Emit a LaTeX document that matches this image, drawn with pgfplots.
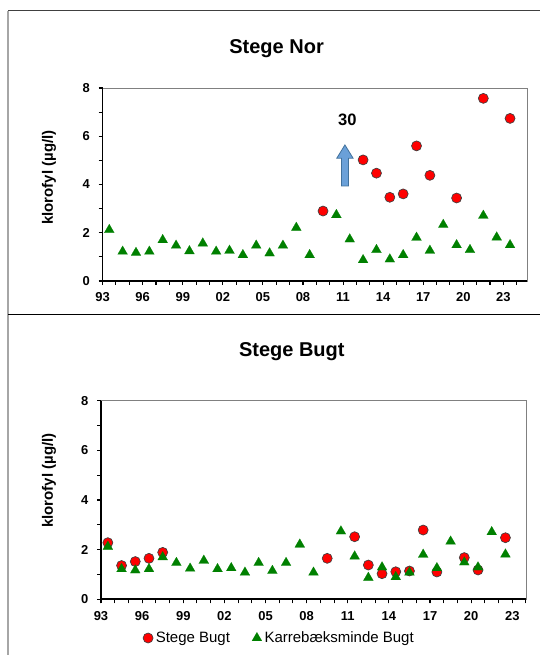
\documentclass[border=0pt]{standalone}
\usepackage{fontspec}
\setmainfont{Liberation Sans}
\usepackage{pgfplots}
\pgfplotsset{compat=1.18}

\definecolor{mkred}{RGB}{255,0,0}
\definecolor{mkgreen}{RGB}{0,128,0}
\definecolor{arrowfill}{RGB}{106,160,216}
\definecolor{arrowdraw}{RGB}{65,113,156}

\pgfplotsset{
  chl/.style={
    scale only axis,
    anchor=south west,
    clip=false,
    xmin=1993, ymin=0, ymax=8,
    xtick={1993,1996,...,2023},
    xticklabels={93,96,99,02,05,08,11,14,17,20,23},
    minor xtick={1993,...,2024},
    ytick={0,2,4,6,8},
    minor ytick={1,3,5,7},
    tick align=outside,
    tick pos=left,
    major tick length=3pt,
    minor tick length=3pt,
    every tick/.style={black, line width=0.8pt},
    axis line style={draw=black!50, line width=0.6pt},
    /pgf/number format/assume math mode=true,
    ticklabel style={font=\bfseries\fontsize{9.7}{11}\selectfont},
    yticklabel style={xshift=-3pt},
    xticklabel style={yshift=-2.4pt},
    every axis y label/.style={rotate=90, anchor=center, font=\bfseries\fontsize{11.25}{13}\selectfont},
    every axis title/.style={font=\bfseries\fontsize{15}{18}\selectfont, anchor=base},
    ylabel={klorofyl (µg/l)},
  },
  circ/.style={only marks, mark=*, mark size=3.75pt,
    mark options={fill=mkred, draw=black!75, line width=0.5pt}},
  tri/.style={only marks, mark=triangle*, mark size=4.3pt,
    mark options={fill=mkgreen, draw=mkgreen, line width=0.1pt}},
}

\pgfplotstableread{
x y
1993.5 2.12
1994.5 1.22
1995.5 1.17
1996.5 1.22
1997.5 1.70
1998.5 1.47
1999.5 1.24
2000.5 1.56
2001.5 1.22
2002.5 1.26
2003.5 1.08
2004.5 1.47
2005.5 1.15
2006.5 1.47
2007.5 2.21
2008.5 1.08
2010.5 2.74
2011.5 1.73
2012.5 0.87
2013.5 1.29
2014.5 0.90
2015.5 1.08
2016.5 1.80
2017.5 1.26
2018.5 2.33
2019.5 1.49
2020.5 1.29
2021.5 2.71
2022.5 1.81
2023.5 1.49
}\karreTop

\pgfplotstableread{
x y
1993.5 2.12
1994.5 1.22
1995.5 1.17
1996.5 1.22
1997.5 1.70
1998.5 1.47
1999.5 1.24
2000.5 1.56
2001.5 1.22
2002.5 1.26
2003.5 1.08
2004.5 1.47
2005.5 1.15
2006.5 1.47
2007.5 2.21
2008.5 1.08
2010.5 2.74
2011.5 1.73
2012.5 0.87
2013.5 1.29
2014.5 0.90
2015.5 1.08
2016.5 1.80
2017.5 1.26
2018.5 2.33
2019.5 1.49
2020.5 1.29
2021.5 2.71
2022.5 1.81
}\karreBot

\pgfplotstableread{
x y
2009.5 2.90
2012.5 5.02
2013.5 4.47
2014.5 3.47
2015.5 3.61
2016.5 5.60
2017.5 4.38
2019.5 3.44
2021.5 7.57
2023.5 6.74
}\stegeNor

\pgfplotstableread{
x y
1993.5 2.28
1994.5 1.36
1995.5 1.52
1996.5 1.65
1997.5 1.89
2009.5 1.65
2011.5 2.52
2012.5 1.38
2013.5 1.03
2014.5 1.11
2015.5 1.14
2016.5 2.79
2017.5 1.10
2019.5 1.68
2020.5 1.18
2022.5 2.48
}\stegeBugt

\begin{document}
\begin{tikzpicture}
\path[use as bounding box] (0,0) rectangle (405pt,491.25pt);
\draw[black!75, line width=0.75pt] (6pt,483.2pt) -- (405pt,483.2pt);
\draw[black!35, line width=1.5pt] (6pt,483.2pt) -- (6pt,0pt);
\draw[black, line width=0.75pt] (6pt,255pt) -- (405pt,255pt);

% Top panel
\begin{axis}[chl,
  at={(76.95pt,280.5pt)},
  width=318.3pt, height=144.75pt,
  xmax=2024.77,
  title={Stege Nor},
  title style={at={(axis description cs:0.41,1)}, yshift=26.25pt},
  ylabel style={at={(axis description cs:-0.126,0.536)}},
]
\draw[black, line width=1.3pt] (rel axis cs:0,1) -- (rel axis cs:0,0) -- (rel axis cs:1,0);
\addplot[circ] table {\stegeNor};
\addplot[tri] table {\karreTop};
\draw[arrowdraw, fill=arrowfill, line width=0.6pt]
  (axis cs:2010.88,3.94) -- (axis cs:2010.88,5.09) -- (axis cs:2010.53,5.09) --
  (axis cs:2011.14,5.64) -- (axis cs:2011.75,5.09) -- (axis cs:2011.40,5.09) --
  (axis cs:2011.40,3.94) -- cycle;
\node[font=\bfseries\fontsize{12.4}{14}\selectfont] at (axis cs:2011.32,6.69) {30};
\end{axis}

% Bottom panel
\begin{axis}[chl,
  at={(75.75pt,41.78pt)},
  width=318.75pt, height=148.95pt,
  xmax=2024,
  title={Stege Bugt},
  title style={at={(axis description cs:0.449,1)}, yshift=33.5pt},
  ylabel style={at={(axis description cs:-0.122,0.598)}},
  legend style={at={(axis description cs:0.097,-0.195)}, anchor=west,
    draw=none, fill=none, legend columns=2, inner sep=0pt,
    font=\fontsize{11.25}{13}\selectfont,
    /tikz/every even column/.append style={column sep=14pt}},
  legend cell align=left,
  legend image code/.code={\draw[#1] plot coordinates {(4pt,0pt)}; \path (0pt,0pt) (6pt,0pt);},
]
\draw[black, line width=1.3pt] (rel axis cs:0,1) -- (rel axis cs:0,0) -- (rel axis cs:1,0);
\addplot[circ] table {\stegeBugt};
\addlegendentry{Stege Bugt}
\addplot[tri] table {\karreBot};
\addlegendentry{Karrebæksminde Bugt}
\end{axis}
\end{tikzpicture}
\end{document}
